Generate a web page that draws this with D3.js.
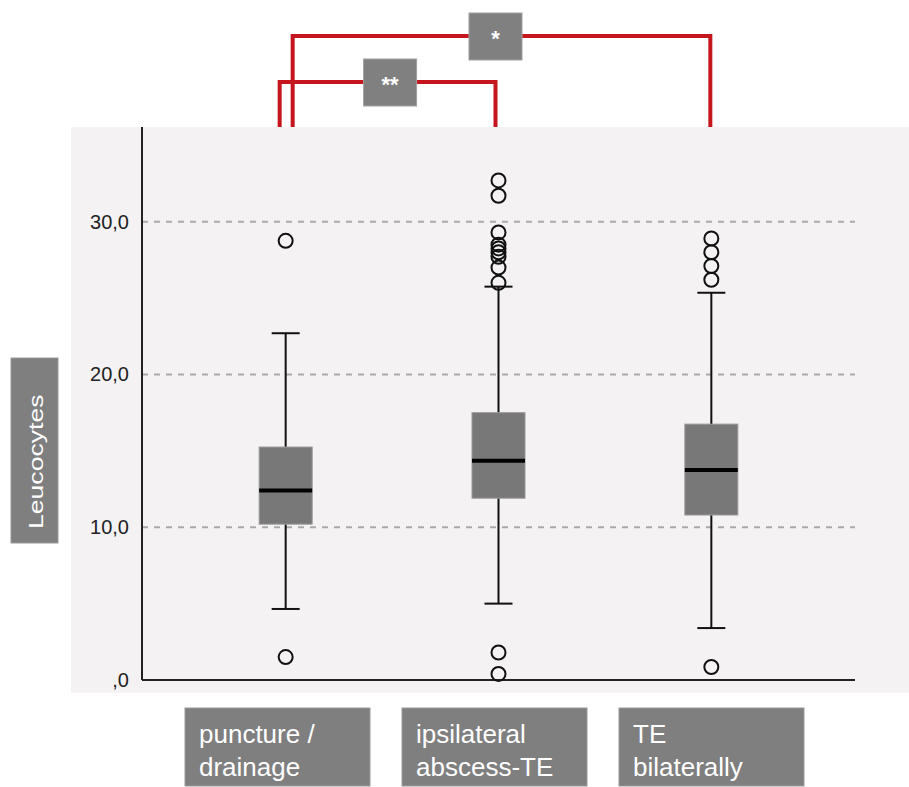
<!DOCTYPE html>
<html>
<head>
<meta charset="utf-8">
<script src="https://cdn.jsdelivr.net/npm/d3@7"></script>
<style>
  html, body { margin: 0; padding: 0; background: #fff; }
  svg { display: block; font-family: "Liberation Sans", Arial, sans-serif; }
</style>
</head>
<body>
<script>
(function () {
  'use strict';

  var categories = ['puncture / drainage', 'ipsilateral abscess-TE', 'TE bilaterally'],
    labelLines = [['puncture /', 'drainage'], ['ipsilateral', 'abscess-TE'], ['TE', 'bilaterally']],
    q1 = [10.2, 11.9, 10.8],
    median = [12.4, 14.35, 13.75],
    q3 = [15.25, 17.5, 16.75],
    whiskerLow = [4.65, 5.0, 3.4],
    whiskerHigh = [22.7, 25.75, 25.35],
    outliers = [
      [28.75, 1.5],
      [32.7, 31.7, 29.3, 28.5, 28.25, 28.0, 27.7, 27.0, 26.0, 1.8, 0.4],
      [28.9, 28.0, 27.1, 26.2, 0.85]
    ],
    tickValues = [0, 10, 20, 30],
    tickLabels = [',0', '10,0', '20,0', '30,0'],
    comparisons = [
      { from: 0, to: 1, label: '**' },
      { from: 0, to: 2, label: '*' }
    ];

  var W = 909,
    H = 787,
    svgEl, x, y, boxes;

  init();

  function init() {
    svgEl = d3.select('body')
      .append('svg')
      .attr('width', W)
      .attr('height', H);

    // plot background
    svgEl.append('rect')
      .attr('x', 71)
      .attr('y', 127)
      .attr('width', W - 71)
      .attr('height', 566)
      .attr('fill', '#f4f2f3');

    y = d3.scaleLinear()
      .domain([0, 36.2])
      .range([680, 127]);

    x = d3.scalePoint()
      .domain(categories)
      .range([142, 855])
      .padding(0.675);

    drawGrid();
    drawAxes();
    drawBoxes();
    drawBrackets();
    drawLabels();
  }

  function drawGrid() {
    svgEl.append('g')
      .selectAll('line')
      .data(tickValues.filter(function (d) { return d > 0; }))
      .enter()
      .append('line')
      .attr('x1', 142)
      .attr('x2', 855)
      .attr('y1', function (d) { return y(d); })
      .attr('y2', function (d) { return y(d); })
      .attr('stroke', '#aaaaaa')
      .attr('stroke-width', 2)
      .attr('stroke-dasharray', '6,6');
  }

  function drawAxes() {
    var yAxis = svgEl.append('g')
      .attr('transform', 'translate(142,0)')
      .call(d3.axisLeft(y)
        .tickValues(tickValues)
        .tickSize(0)
        .tickPadding(13)
        .tickFormat(function (d, i) { return tickLabels[i]; }));

    yAxis.select('.domain').remove();
    yAxis.selectAll('text')
      .attr('font-size', 20)
      .attr('font-family', '"Liberation Sans", Arial, sans-serif')
      .attr('fill', '#222');

    svgEl.append('line')
      .attr('x1', 142).attr('x2', 142)
      .attr('y1', 127).attr('y2', 680)
      .attr('stroke', '#222')
      .attr('stroke-width', 2);

    svgEl.append('line')
      .attr('x1', 142).attr('x2', 855)
      .attr('y1', 680).attr('y2', 680)
      .attr('stroke', '#222')
      .attr('stroke-width', 2);
  }

  function drawBoxes() {
    var bw = 53,
      cap = 28;

    boxes = svgEl.selectAll('g.box')
      .data(categories)
      .enter()
      .append('g')
      .attr('class', 'box')
      .attr('transform', function (d) { return 'translate(' + x(d) + ',0)'; });

    // whiskers
    boxes.append('line')
      .attr('x1', 0).attr('x2', 0)
      .attr('y1', function (d, i) { return y(whiskerHigh[i]); })
      .attr('y2', function (d, i) { return y(whiskerLow[i]); })
      .attr('stroke', '#111')
      .attr('stroke-width', 2);

    boxes.append('line')
      .attr('x1', -cap / 2).attr('x2', cap / 2)
      .attr('y1', function (d, i) { return y(whiskerHigh[i]); })
      .attr('y2', function (d, i) { return y(whiskerHigh[i]); })
      .attr('stroke', '#111')
      .attr('stroke-width', 2);

    boxes.append('line')
      .attr('x1', -cap / 2).attr('x2', cap / 2)
      .attr('y1', function (d, i) { return y(whiskerLow[i]); })
      .attr('y2', function (d, i) { return y(whiskerLow[i]); })
      .attr('stroke', '#111')
      .attr('stroke-width', 2);

    boxes.append('rect')
      .attr('x', -bw / 2)
      .attr('width', bw)
      .attr('y', function (d, i) { return y(q3[i]); })
      .attr('height', function (d, i) { return y(q1[i]) - y(q3[i]); })
      .attr('fill', '#787878')
      .attr('stroke', '#9a9a9a')
      .attr('stroke-width', 1);

    boxes.append('line')
      .attr('x1', -bw / 2).attr('x2', bw / 2)
      .attr('y1', function (d, i) { return y(median[i]); })
      .attr('y2', function (d, i) { return y(median[i]); })
      .attr('stroke', '#000')
      .attr('stroke-width', 4);

    boxes.selectAll('circle')
      .data(function (d, i) { return outliers[i]; })
      .enter()
      .append('circle')
      .attr('cx', 0)
      .attr('cy', function (d) { return y(d); })
      .attr('r', 7)
      .attr('fill', 'none')
      .attr('stroke', '#111')
      .attr('stroke-width', 2);
  }

  function drawBrackets() {
    // layout of the significance brackets: levels and small x nudges
    var levels = [82, 36],
      nudgeFrom = [-6, 7],
      nudgeTo = [-3, -1],
      nudgeMid = [2.5, -6],
      bottom = 127;

    comparisons.forEach(function (c, i) {
      var x1 = x(categories[c.from]) + nudgeFrom[i],
        x2 = x(categories[c.to]) + nudgeTo[i],
        ly = levels[i],
        mid = (x1 + x2) / 2 + nudgeMid[i];

      svgEl.append('path')
        .attr('d', 'M' + x1 + ',' + bottom + 'V' + ly + 'H' + x2 + 'V' + bottom)
        .attr('fill', 'none')
        .attr('stroke', '#c4161c')
        .attr('stroke-width', 4);

      svgEl.append('rect')
        .attr('x', mid - 26.5)
        .attr('y', ly - 23)
        .attr('width', 53)
        .attr('height', 47)
        .attr('fill', '#808080')
        .attr('stroke', '#a0a0a0')
        .attr('stroke-width', 1);

      svgEl.append('text')
        .attr('x', mid)
        .attr('y', ly + 10)
        .attr('text-anchor', 'middle')
        .attr('font-size', 22)
        .attr('font-weight', 'bold')
        .attr('fill', '#fff')
        .text(c.label);
    });
  }

  function drawLabels() {
    var lefts = [185, 402, 619];

    var lab = svgEl.selectAll('g.xlab')
      .data(categories)
      .enter()
      .append('g')
      .attr('class', 'xlab')
      .attr('transform', function (d, i) { return 'translate(' + lefts[i] + ',708)'; });

    lab.append('rect')
      .attr('width', 185)
      .attr('height', 78)
      .attr('fill', '#7f7f7f')
      .attr('stroke', '#9a9a9a')
      .attr('stroke-width', 1);

    lab.selectAll('text')
      .data(function (d, i) { return labelLines[i]; })
      .enter()
      .append('text')
      .attr('x', 14)
      .attr('y', function (d, j) { return 35 + j * 33; })
      .attr('font-size', 26)
      .attr('fill', '#fff')
      .text(function (d) { return d; });

    // y axis title
    svgEl.append('rect')
      .attr('x', 11)
      .attr('y', 358)
      .attr('width', 47)
      .attr('height', 185)
      .attr('fill', '#7f7f7f')
      .attr('stroke', '#9a9a9a')
      .attr('stroke-width', 1);

    svgEl.append('text')
      .attr('transform', 'translate(43,529) rotate(-90) scale(1.33,1)')
      .attr('font-size', 20)
      .attr('fill', '#fff')
      .text('Leucocytes');
  }
}());
</script>
</body>
</html>
